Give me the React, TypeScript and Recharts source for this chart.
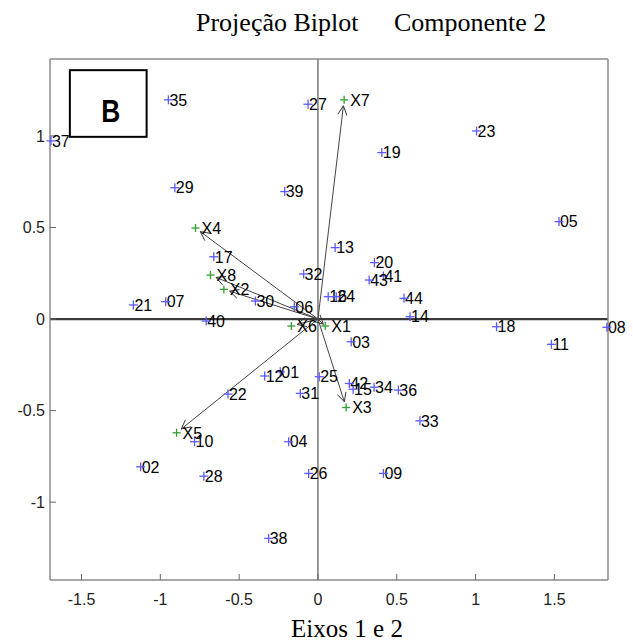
import React from 'react';
import { ScatterChart, Scatter, XAxis, YAxis, ReferenceLine, ReferenceArea } from 'recharts';

// ---- data ----
const obsLabels = ['01','02','03','04','05','06','07','08','09','10','11','12','13','14','15','16','17','18','19','20','21','22','23','24','25','26','27','28','29','30','31','32','33','34','35','36','37','38','39','40','41','42','43','44'];
const obsX = [-0.239,-1.125,0.211,-0.186,1.529,-0.150,-0.966,1.833,0.415,-0.783,1.481,-0.338,0.109,0.584,0.223,0.065,-0.661,1.133,0.405,0.358,-1.171,-0.571,1.006,0.116,0.008,-0.059,-0.063,-0.724,-0.908,-0.397,-0.112,-0.091,0.647,0.356,-0.949,0.510,-1.694,-0.313,-0.211,-0.709,0.415,0.199,0.325,0.546];
const obsY = [-0.288,-0.807,-0.124,-0.670,0.532,0.067,0.095,-0.045,-0.843,-0.670,-0.138,-0.311,0.390,0.013,-0.383,0.122,0.340,-0.042,0.909,0.308,0.077,-0.410,1.027,0.122,-0.315,-0.843,1.173,-0.858,0.717,0.098,-0.406,0.246,-0.556,-0.372,1.197,-0.388,0.973,-1.198,0.696,-0.011,0.235,-0.352,0.213,0.113];

const varLabels = ['X1','X2','X3','X4','X5','X6','X7','X8'];
const varX = [0.046,-0.597,0.179,-0.777,-0.897,-0.169,0.166,-0.682];
const varY = [-0.038,0.162,-0.483,0.497,-0.621,-0.038,1.197,0.240];

const xTicks = [-1.5,-1,-0.5,0,0.5,1,1.5];
const yTicks = [-1,-0.5,0,0.5,1];
const xDomain = [-1.70, 1.84];
const yDomain = [-1.425, 1.42];

const panelBox = { x1: -1.574, x2: -1.087, y1: 0.995, y2: 1.359, label: 'B' };

const titleLeft = 'Projeção Biplot';
const titleRight = 'Componente 2';
const xLabel = 'Eixos 1 e 2';

const obsData = obsLabels.map((label, i) => ({ x: obsX[i], y: obsY[i], label }));
const varData = varLabels.map((label, i) => ({ x: varX[i], y: varY[i], label }));

const SANS = '"Liberation Sans", Arial, Helvetica, sans-serif';
const SERIF = '"Liberation Serif", "Times New Roman", serif';

function ObsShape(props: any) {
  const { cx, cy, payload } = props;
  const r = 4.5;
  return (
    <g>
      <text x={cx + 1} y={cy} dy="0.36em" fontSize={16} fontFamily={SANS} fill="#000">{payload.label}</text>
      <line x1={cx - r} y1={cy} x2={cx + r} y2={cy} stroke="#5a5aff" strokeWidth={1.3} />
      <line x1={cx} y1={cy - r} x2={cx} y2={cy + r} stroke="#5a5aff" strokeWidth={1.3} />
    </g>
  );
}

function VarShape(props: any) {
  const { cx, cy, payload } = props;
  const r = 4;
  return (
    <g>
      <text x={cx + 6} y={cy} dy="0.36em" fontSize={16} fontFamily={SANS} fill="#000">{payload.label}</text>
      <line x1={cx - r} y1={cy} x2={cx + r} y2={cy} stroke="#2f9e2f" strokeWidth={1.3} />
      <line x1={cx} y1={cy - r} x2={cx} y2={cy + r} stroke="#2f9e2f" strokeWidth={1.3} />
    </g>
  );
}

function ArrowShape(props: any) {
  const { x1, y1, x2, y2 } = props;
  const dx = x2 - x1;
  const dy = y2 - y1;
  const len = Math.hypot(dx, dy) || 1;
  const ux = dx / len;
  const uy = dy / len;
  const gap = Math.min(6, len * 0.25);
  const tx = x2 - ux * gap;
  const ty = y2 - uy * gap;
  const head = 9;
  const half = 4.5;
  const bx = tx - ux * head;
  const by = ty - uy * head;
  const nx = -uy;
  const ny = ux;
  return (
    <g>
      <line x1={x1} y1={y1} x2={tx} y2={ty} stroke="#444" strokeWidth={1} />
      <polyline
        points={`${bx + nx * half},${by + ny * half} ${tx},${ty} ${bx - nx * half},${by - ny * half}`}
        fill="none"
        stroke="#333"
        strokeWidth={1}
      />
    </g>
  );
}

function BoxShape(props: any) {
  const { x, y, width, height } = props;
  return (
    <g>
      <rect x={x} y={y} width={width} height={height} fill="#fff" stroke="#000" strokeWidth={2} />
      <text
        x={x + width / 2 + 2.5}
        y={y + height / 2 + 18.3}
        textAnchor="middle"
        fontSize={32}
        fontWeight="bold"
        fontFamily={SANS}
        fill="#000"
        textLength={19}
        lengthAdjust="spacingAndGlyphs"
      >
        {panelBox.label}
      </text>
    </g>
  );
}

const emptyTick = () => <g />;

export default function App() {
  return (
    <div style={{ position: 'absolute', left: 0, top: 0, width: 633, height: 641, background: '#fff' }}>
      <ScatterChart width={633} height={641} margin={{ top: 58, right: 24, bottom: 31, left: 10 }}>
        <XAxis
          type="number"
          dataKey="x"
          domain={xDomain}
          ticks={xTicks}
          interval={0}
          tickSize={-6}
          tickMargin={20}
          height={30}
          axisLine={{ stroke: '#8a8a8a', strokeWidth: 1.5 }}
          tickLine={{ stroke: '#666' }}
          tick={{ fontSize: 16, fill: '#222', fontFamily: SANS }}
          tickFormatter={(v: number) => String(v)}
        />
        <XAxis
          xAxisId="top"
          orientation="top"
          type="number"
          domain={xDomain}
          ticks={xTicks}
          interval={0}
          tickSize={-6}
          height={1}
          axisLine={{ stroke: '#8a8a8a', strokeWidth: 1.5 }}
          tickLine={{ stroke: '#666' }}
          tick={emptyTick}
        />
        <YAxis
          type="number"
          dataKey="y"
          domain={yDomain}
          ticks={yTicks}
          interval={0}
          tickSize={-6}
          tickMargin={11}
          width={40}
          axisLine={{ stroke: '#8a8a8a', strokeWidth: 1.5 }}
          tickLine={{ stroke: '#666' }}
          tick={{ fontSize: 16, fill: '#222', fontFamily: SANS }}
          tickFormatter={(v: number) => String(v)}
        />
        <YAxis
          yAxisId="right"
          orientation="right"
          type="number"
          domain={yDomain}
          ticks={yTicks}
          interval={0}
          tickSize={-6}
          width={1}
          axisLine={{ stroke: '#8a8a8a', strokeWidth: 1.5 }}
          tickLine={{ stroke: '#666' }}
          tick={emptyTick}
        />
        <ReferenceLine y={0} stroke="#3a3a3a" strokeWidth={2.2} ifOverflow="visible" />
        <ReferenceLine x={0} stroke="#555" strokeWidth={1.2} ifOverflow="visible" />
        {varData.map((d) => (
          <ReferenceLine
            key={'arr' + d.label}
            segment={[{ x: 0, y: 0 }, { x: d.x, y: d.y }]}
            shape={ArrowShape}
            ifOverflow="visible"
          />
        ))}
        <ReferenceArea
          x1={panelBox.x1}
          x2={panelBox.x2}
          y1={panelBox.y1}
          y2={panelBox.y2}
          shape={BoxShape}
          ifOverflow="visible"
        />
        <Scatter data={obsData} shape={ObsShape} isAnimationActive={false} />
        <Scatter data={varData} shape={VarShape} isAnimationActive={false} />
      </ScatterChart>
      <svg
        width={633}
        height={641}
        style={{ position: 'absolute', left: 0, top: 0, pointerEvents: 'none' }}
      >
        <text x={196} y={31} fontSize={26} fontFamily={SERIF} fill="#000">{titleLeft}</text>
        <text x={394} y={31} fontSize={26} fontFamily={SERIF} fill="#000">{titleRight}</text>
        <text x={347} y={637} textAnchor="middle" fontSize={25} fontFamily={SERIF} fill="#000">{xLabel}</text>
      </svg>
    </div>
  );
}
